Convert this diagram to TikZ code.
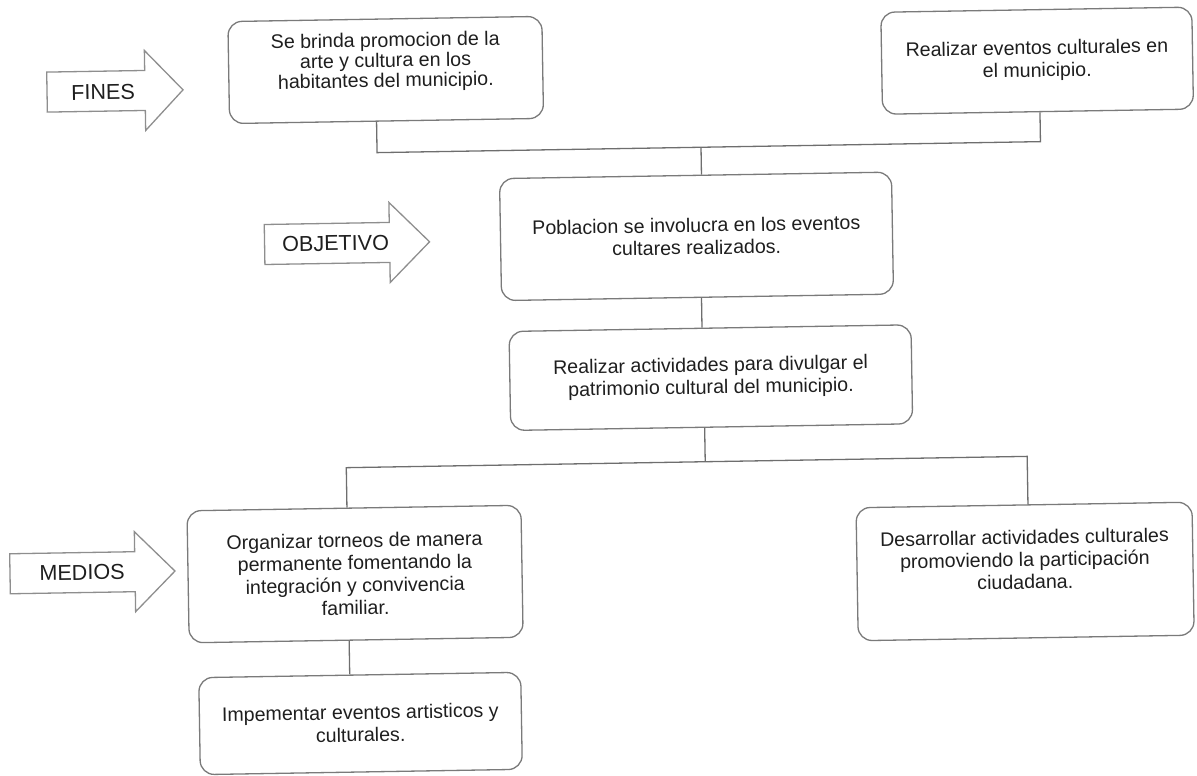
\documentclass[tikz,border=0pt]{standalone}
\usepackage{fontspec}
\setmainfont{Liberation Sans}

\definecolor{linea}{HTML}{6E6E6E}
\definecolor{borde}{HTML}{7A7A7A}
\definecolor{tinta}{HTML}{1E1E1E}

\tikzset{
  caja/.style={draw=borde, line width=0.65pt, rounded corners=7pt, align=center,
    text=tinta, font={\fontsize{9.8}{11.2}\selectfont}},
  apretada/.style={font={\fontsize{9.8}{10.1}\selectfont}},
  conector/.style={draw=linea, line width=0.65pt},
  etiqueta/.style={text=tinta, font={\fontsize{10.8}{13}\selectfont}},
  bloque/.style={draw=borde!85, line width=0.65pt},
}

% flecha gruesa: x inicio, x base de la punta, x punta, y del eje
\newcommand{\flecha}[4]{%
  \draw[bloque] ({#1},{#4-20}) -- ({#2},{#4-20}) -- ({#2},{#4-40}) -- ({#3},{#4})
    -- ({#2},{#4+40}) -- ({#2},{#4+20}) -- ({#1},{#4+20}) -- cycle;}

\begin{document}
\begin{tikzpicture}[x=0.5pt,y=-0.5pt]
\useasboundingbox (0,0) rectangle (1197,775);
\begin{scope}[rotate around={0.95:(598,388)}, transform shape]

% flechas
\flecha{52}{150}{188}{83}
\node[etiqueta] (fines) at (108,84) {FINES};
\flecha{267}{392}{432}{239}
\node[etiqueta] (objetivo) at (338,239) {OBJETIVO};
\flecha{7}{132}{172}{564}
\node[etiqueta] (medios) at (79,564) {MEDIOS};

% fines
\node[caja, apretada, minimum width=157pt, minimum height=51pt, text depth=10pt] (fin1) at (391,66.5)
  {Se brinda promocion de la\\arte y cultura en los\\habitantes del municipio.};
\node[caja, minimum width=155.5pt, minimum height=51pt] (fin2) at (1042.5,68)
  {Realizar eventos culturales en\\el municipio.};

% objetivo
\node[caja, minimum width=196pt, minimum height=61pt] (obj) at (699,238)
  {Poblacion se involucra en los eventos\\cultares realizados.};
\node[caja, minimum width=201pt, minimum height=49.5pt] (act) at (711,379.5)
  {Realizar actividades para divulgar el\\patrimonio cultural del municipio.};

% medios
\node[caja, minimum width=167pt, minimum height=66pt] (med1) at (352,570)
  {Organizar torneos de manera\\permanente fomentando la\\integración y convivencia\\familiar.};
\node[caja, minimum width=168pt, minimum height=66.5pt, text depth=12pt] (med2) at (1022,578.5)
  {Desarrollar actividades culturales\\promoviendo la participación\\ciudadana.};
\node[caja, minimum width=161pt, minimum height=48.5pt] (med3) at (355,719.5)
  {Impementar eventos artisticos y\\culturales.};

% conectores
\coordinate (b1) at (705,149);
\coordinate (b2) at (704,463.5);
\draw[conector] ([xshift=-5pt]fin1.south) |- (b1) -| ([xshift=1pt]fin2.south);
\draw[conector] (b1) -- (b1 |- obj.north);
\draw[conector] ([xshift=2pt]obj.south) -- ([xshift=2pt]obj.south |- act.north);
\draw[conector] (act.south -| b2) -- (b2);
\draw[conector] ([xshift=-3.5pt]med1.north) |- (b2) -| ([xshift=2pt]med2.north);
\draw[conector] ([xshift=-3.5pt]med1.south) -- ([xshift=-3.5pt]med1.south |- med3.north);

\end{scope}
\end{tikzpicture}
\end{document}
